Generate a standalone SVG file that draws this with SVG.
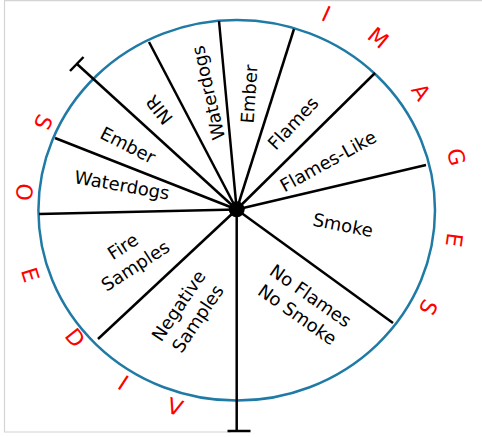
<svg xmlns="http://www.w3.org/2000/svg" width="482" height="437" viewBox="0 0 482 437">
<style>
.frame{stroke:#d4d4d4;stroke-width:1.2;fill:none}
.rim{fill:#ffffff;stroke:#1f7aa5;stroke-width:2.5}
.spoke{stroke:#000;stroke-width:2.5;fill:none;stroke-linecap:butt}
.lbl{font-family:"DejaVu Sans","Liberation Sans",sans-serif;font-size:18px;fill:#000;text-anchor:middle;dominant-baseline:central}
.red{font-family:"DejaVu Sans","Liberation Sans",sans-serif;font-size:22px;fill:#ff0000;text-anchor:middle;dominant-baseline:central}
</style>
<rect width="482" height="437" fill="#ffffff"/>
<g id="frame">
<line class="frame" x1="4.5" y1="0" x2="4.5" y2="432"/>
<line class="frame" x1="4" y1="0.6" x2="482" y2="0.6"/>
<line class="frame" x1="4" y1="432" x2="231" y2="432"/>
</g>
<g id="wheel">
<ellipse class="rim" cx="236.7" cy="210.3" rx="198.3" ry="190.3"/>
</g>
<g id="connectors">
<line class="spoke" x1="236.7" y1="209.5" x2="149" y2="42"/>
<line class="spoke" x1="236.7" y1="209.5" x2="219" y2="21"/>
<line class="spoke" x1="236.7" y1="209.5" x2="294" y2="29"/>
<line class="spoke" x1="236.7" y1="209.5" x2="375" y2="73"/>
<line class="spoke" x1="236.7" y1="209.5" x2="426" y2="165"/>
<line class="spoke" x1="236.7" y1="209.5" x2="393" y2="323"/>
<line class="spoke" x1="236.7" y1="209.5" x2="98" y2="339"/>
<line class="spoke" x1="236.7" y1="209.5" x2="39" y2="214"/>
<line class="spoke" x1="236.7" y1="209.5" x2="55" y2="138"/>
<line class="spoke" x1="236.7" y1="209.5" x2="236.7" y2="431"/>
<line class="spoke" x1="227.5" y1="431" x2="250.5" y2="431"/>
<line class="spoke" x1="236.7" y1="209.5" x2="77" y2="64"/>
<line class="spoke" x1="70" y1="71" x2="83.5" y2="57"/>
<circle cx="236.7" cy="209.3" r="8" fill="#000"/>
</g>
<g id="nir"><text class="lbl" transform="translate(159,110) rotate(-128)">NIR</text></g>
<g id="waterdogs-img"><text class="lbl" transform="translate(208,93) rotate(-103)">Waterdogs</text></g>
<g id="ember-img"><text class="lbl" transform="translate(249,94) rotate(-86)">Ember</text></g>
<g id="flames"><text class="lbl" transform="translate(293,123) rotate(-47)">Flames</text></g>
<g id="flames-like"><text class="lbl" transform="translate(328,161) rotate(-29)">Flames-Like</text></g>
<g id="smoke"><text class="lbl" transform="translate(343,225) rotate(11)">Smoke</text></g>
<g id="no-flames"><g transform="translate(304,305) rotate(35)"><text class="lbl" x="0" y="-11.5">No Flames</text><text class="lbl" x="0" y="11.5">No Smoke</text></g></g>
<g id="negative"><g transform="translate(188,312) rotate(-56)"><text class="lbl" x="0" y="-11.5">Negative</text><text class="lbl" x="0" y="11.5">Samples</text></g></g>
<g id="fire"><g transform="translate(129,256) rotate(-33)"><text class="lbl" x="0" y="-11.5">Fire</text><text class="lbl" x="0" y="11.5">Samples</text></g></g>
<g id="waterdogs-vid"><text class="lbl" transform="translate(122,185) rotate(10)">Waterdogs</text></g>
<g id="ember-vid"><text class="lbl" transform="translate(128,145) rotate(27)">Ember</text></g>
<g id="images-word">
<text class="red" transform="translate(326,14) rotate(24.5)">I</text>
<text class="red" transform="translate(378,38) rotate(39.4)">M</text>
<text class="red" transform="translate(421,92) rotate(57.4)">A</text>
<text class="red" transform="translate(456,157) rotate(76.4)">G</text>
<text class="red" transform="translate(454,240) rotate(97.9)">E</text>
<text class="red" transform="translate(428,307) rotate(116.9)">S</text>
</g>
<g id="videos-word">
<text class="red" transform="translate(175,407) rotate(17.4)">V</text>
<text class="red" transform="translate(123,383) rotate(33.3)">I</text>
<text class="red" transform="translate(75,338) rotate(51.5)">D</text>
<text class="red" transform="translate(30,275) rotate(72.5)">E</text>
<text class="red" transform="translate(24,192) rotate(95)">O</text>
<text class="red" transform="translate(43,122) rotate(114.4)">S</text>
</g>
</svg>
